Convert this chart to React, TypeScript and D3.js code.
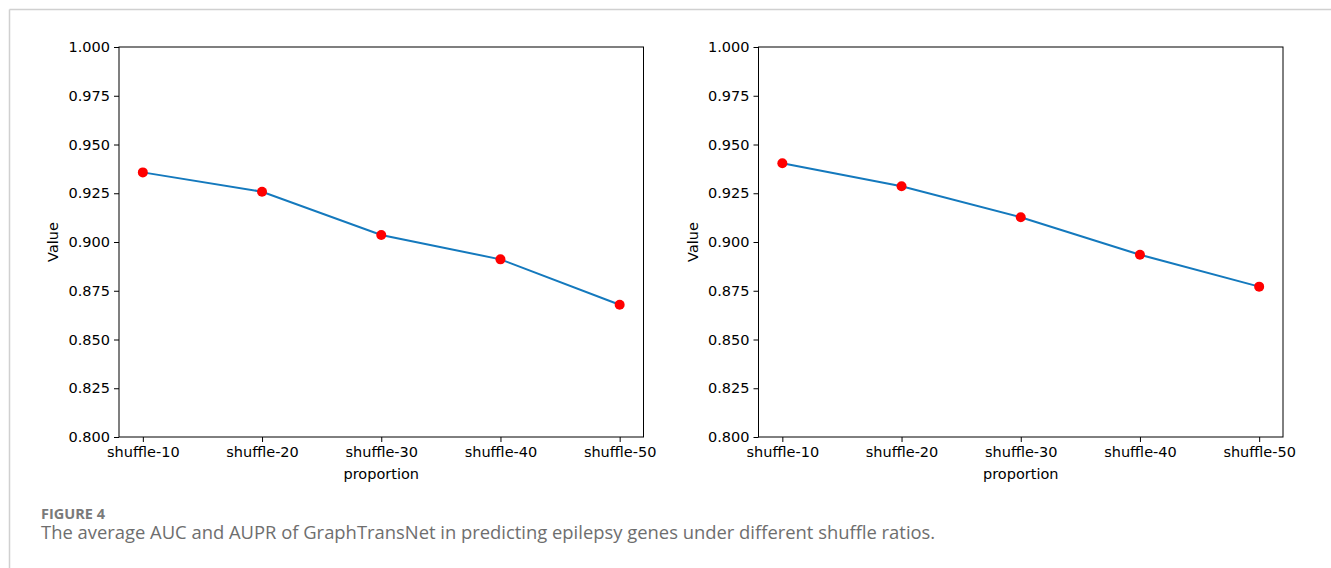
import React, { useEffect, useRef } from "react";
import * as d3 from "d3";

const categories = ["shuffle-10", "shuffle-20", "shuffle-30", "shuffle-40", "shuffle-50"];
const aucValues = [0.9357, 0.9258, 0.9036, 0.8911, 0.8678];
const auprValues = [0.9404, 0.9286, 0.9127, 0.8935, 0.8771];
const yTicks = [0.8, 0.825, 0.85, 0.875, 0.9, 0.925, 0.95, 0.975, 1.0];

const App = () => {
  const svgRef = useRef<SVGSVGElement>(null);

  useEffect(() => {
    const svg = d3.select(svgRef.current);
    svg.selectAll("*").remove();

    const width = 1331, height = 568;
    const font = "DejaVu Sans, sans-serif";
    const fs = "14.5px";

    // outer frame (only top & left edges visible)
    svg.append("line").attr("x1", 9.5).attr("x2", width).attr("y1", 9.5).attr("y2", 9.5)
      .attr("stroke", "#d0d0d0").attr("stroke-width", 1.5);
    svg.append("line").attr("x1", 9.5).attr("x2", 9.5).attr("y1", 9.5).attr("y2", height)
      .attr("stroke", "#d0d0d0").attr("stroke-width", 1.5);

    const panels = [
      { values: aucValues, left: 119, right: 643.5 },
      { values: auprValues, left: 758.5, right: 1283 },
    ];
    const top = 47, bottom = 437;

    panels.forEach(p => {
      const x = d3.scaleLinear().domain([-0.2, categories.length - 1 + 0.2]).range([p.left, p.right]);
      const y = d3.scaleLinear().domain([0.8, 1.0]).range([bottom, top]);
      const g = svg.append("g");

      // y axis
      const ya = g.append("g").attr("transform", `translate(${p.left},0)`)
        .call(d3.axisLeft(y).tickValues(yTicks).tickFormat(d3.format(".3f")).tickSize(5).tickPadding(4));
      ya.select(".domain").remove();
      ya.selectAll("line").attr("stroke", "#000").attr("stroke-width", 1);
      ya.selectAll("text").style("font-family", font).style("font-size", fs).attr("fill", "#000");

      // x axis
      const xa = g.append("g").attr("transform", `translate(0,${bottom})`)
        .call(d3.axisBottom(x).tickValues(d3.range(categories.length)).tickFormat((d: any) => categories[d]).tickSize(5).tickPadding(5));
      xa.select(".domain").remove();
      xa.selectAll("line").attr("stroke", "#000").attr("stroke-width", 1);
      xa.selectAll("text").style("font-family", font).style("font-size", fs).attr("fill", "#000");

      // frame
      g.append("rect").attr("x", p.left).attr("y", top)
        .attr("width", p.right - p.left).attr("height", bottom - top)
        .attr("fill", "none").attr("stroke", "#000").attr("stroke-width", 1);

      // labels
      g.append("text").attr("x", (p.left + p.right) / 2).attr("y", 479)
        .attr("text-anchor", "middle").style("font-family", font).style("font-size", fs)
        .text("proportion");
      g.append("text").attr("transform", `translate(${p.left - 61},${(top + bottom) / 2}) rotate(-90)`)
        .attr("text-anchor", "middle").style("font-family", font).style("font-size", fs)
        .text("Value");

      const line = d3.line<number>().x((_, i) => x(i)).y(d => y(d));
      g.append("path").datum(p.values).attr("d", line)
        .attr("fill", "none").attr("stroke", "#1479bd").attr("stroke-width", 2);

      g.selectAll("circle.pt").data(p.values).join("circle")
        .attr("class", "pt")
        .attr("cx", (_, i) => x(i)).attr("cy", d => y(d)).attr("r", 5)
        .attr("fill", "#ff0000");
    });

    // caption
    svg.append("text").attr("x", 41).attr("y", 519)
      .style("font-family", "Open Sans, sans-serif").style("font-size", "14.5px").style("font-weight", "bold")
      .attr("fill", "#7a7a7a").text("FIGURE 4");
    svg.append("text").attr("x", 41).attr("y", 539)
      .style("font-family", "Open Sans, sans-serif").style("font-size", "18.4px")
      .attr("fill", "#6e6e6e")
      .text("The average AUC and AUPR of GraphTransNet in predicting epilepsy genes under different shuffle ratios.");
  }, []);

  return (
    <svg ref={svgRef} width={1331} height={568}
      style={{ position: "absolute", left: 0, top: 0, background: "#fff" }}></svg>
  );
};

export default App;
